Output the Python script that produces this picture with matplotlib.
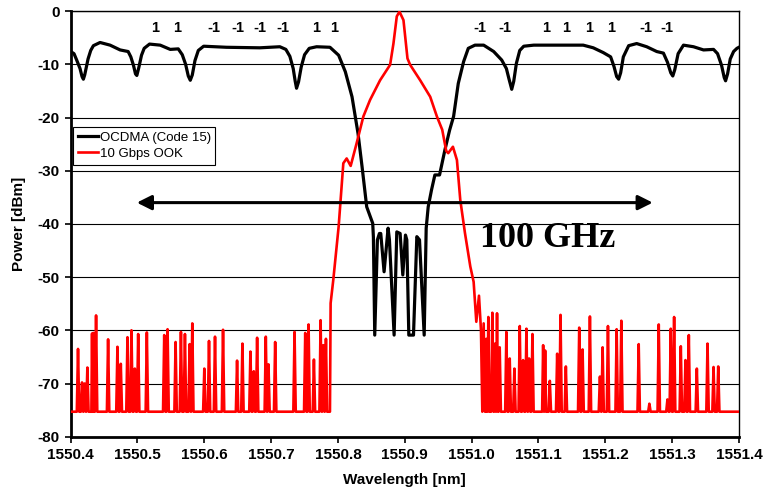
#!/usr/bin/env python3
"""
plot.py - OCDMA (Code 15) encoded spectrum vs. a 10 Gbps OOK spectrum.

Values are read off the reference figure by eye.
"""

import matplotlib
matplotlib.use("Agg")
import matplotlib.pyplot as plt

plt.rcParams['font.family'] = ['Liberation Sans', 'DejaVu Sans']
plt.rcParams['axes.unicode_minus'] = False

# --- OCDMA (Code 15) trace: wavelength [nm] and power [dBm]
ocdma_wl = [
    1550.400, 1550.405, 1550.409, 1550.414, 1550.417, 1550.419, 1550.421,
    1550.426, 1550.430, 1550.434, 1550.444, 1550.459, 1550.474, 1550.486,
    1550.490, 1550.494, 1550.497, 1550.499, 1550.502, 1550.506, 1550.510,
    1550.518, 1550.534, 1550.549, 1550.561, 1550.567, 1550.572, 1550.576,
    1550.579, 1550.582, 1550.586, 1550.591, 1550.599, 1550.633, 1550.683,
    1550.713, 1550.722, 1550.728, 1550.733, 1550.736, 1550.738, 1550.741,
    1550.745, 1550.750, 1550.757, 1550.768, 1550.788, 1550.801, 1550.811,
    1550.821, 1550.830, 1550.836, 1550.843, 1550.849, 1550.852, 1550.853,
    1550.855, 1550.859, 1550.862, 1550.864, 1550.869, 1550.875, 1550.877,
    1550.884, 1550.888, 1550.893, 1550.897, 1550.901, 1550.903, 1550.906,
    1550.913, 1550.918, 1550.922, 1550.929, 1550.932, 1550.935, 1550.940,
    1550.945, 1550.952, 1550.960, 1550.967, 1550.973, 1550.980, 1550.988,
    1550.995, 1551.005, 1551.018, 1551.033, 1551.045, 1551.052, 1551.056,
    1551.060, 1551.063, 1551.067, 1551.072, 1551.078, 1551.093, 1551.167,
    1551.182, 1551.197, 1551.208, 1551.213, 1551.217, 1551.220, 1551.223,
    1551.227, 1551.235, 1551.247, 1551.262, 1551.277, 1551.287, 1551.293,
    1551.298, 1551.301, 1551.304, 1551.309, 1551.317, 1551.332, 1551.347,
    1551.362, 1551.368, 1551.374, 1551.378, 1551.380, 1551.383, 1551.387,
    1551.392, 1551.397, 1551.400,
]
ocdma_db = [
    -7.6, -8.0, -9.2, -10.8, -12.3, -12.8, -12.0,
    -9.0, -7.4, -6.5, -5.9, -6.4, -7.3, -7.6,
    -8.6, -10.2, -11.8, -12.1, -10.6, -8.3, -7.0,
    -6.2, -6.4, -7.2, -7.1, -8.2, -10.0, -12.2,
    -13.0, -12.0, -9.3, -7.4, -6.6, -6.8, -6.9,
    -6.7, -7.2, -8.5, -10.8, -13.2, -14.5, -13.3,
    -10.5, -8.2, -7.0, -6.7, -6.8, -8.3, -11.4,
    -16.1, -23.0, -29.2, -36.8, -38.9, -39.9, -42.5,
    -60.9, -43.0, -41.8, -41.8, -49.0, -40.8, -43.0,
    -60.9, -41.5, -41.8, -49.6, -42.1, -43.0, -60.9,
    -60.9, -42.4, -43.0, -60.9, -40.8, -36.8, -33.6,
    -30.8, -30.8, -26.1, -22.4, -19.8, -13.6, -9.5,
    -7.0, -6.4, -6.4, -7.6, -9.2, -10.8, -12.8,
    -14.7, -13.2, -9.8, -7.4, -6.6, -6.4, -6.4,
    -6.9, -7.8, -8.6, -10.4, -12.3, -12.8, -11.6,
    -8.6, -6.5, -6.1, -6.7, -7.6, -7.9, -9.6,
    -11.6, -12.2, -11.0, -8.0, -6.4, -6.7, -7.3,
    -7.2, -8.0, -10.2, -12.5, -13.1, -11.8, -9.0,
    -7.6, -7.0, -6.8,
]

# --- 10 Gbps OOK: noise floor and noise spikes either side of the main lobe
ook_floor = -75.3
ook_spike_wl_left = [
    1550.411, 1550.417, 1550.421, 1550.425, 1550.432, 1550.434, 1550.438,
    1550.456, 1550.470, 1550.475, 1550.485, 1550.491, 1550.496, 1550.501,
    1550.514, 1550.540, 1550.545, 1550.557, 1550.565, 1550.571, 1550.578,
    1550.582, 1550.600, 1550.607, 1550.616, 1550.628, 1550.649, 1550.657,
    1550.669, 1550.674, 1550.679, 1550.692, 1550.696, 1550.706, 1550.735,
    1550.751, 1550.756, 1550.764, 1550.774, 1550.778, 1550.782,
]
ook_spike_db_left = [
    -63.5, -69.8, -70.0, -67.0, -60.6, -60.5, -57.2,
    -61.7, -63.1, -66.3, -61.3, -60.0, -67.2, -60.7,
    -60.4, -60.9, -59.8, -62.2, -60.3, -60.7, -62.6,
    -58.7, -67.2, -62.0, -61.2, -59.9, -65.7, -62.5,
    -64.0, -67.7, -61.4, -61.2, -66.4, -62.2, -60.3,
    -60.5, -58.9, -65.5, -58.1, -62.8, -61.6,
]
ook_spike_wl_right = [
    1551.022, 1551.025, 1551.031, 1551.035, 1551.038, 1551.042, 1551.052,
    1551.057, 1551.064, 1551.072, 1551.077, 1551.082, 1551.086, 1551.091,
    1551.107, 1551.110, 1551.117, 1551.128, 1551.133, 1551.141, 1551.161,
    1551.166, 1551.177, 1551.192, 1551.196, 1551.204, 1551.217, 1551.224,
    1551.250, 1551.266, 1551.280, 1551.293, 1551.298, 1551.303, 1551.313,
    1551.320, 1551.325, 1551.337, 1551.353, 1551.362, 1551.369,
]
ook_spike_db_right = [
    -61.6, -57.5, -56.7, -62.5, -56.8, -63.2, -60.3,
    -65.3, -67.2, -59.2, -65.6, -59.7, -65.3, -60.7,
    -62.8, -63.8, -69.5, -64.4, -57.1, -66.8, -59.5,
    -63.6, -57.4, -68.7, -63.2, -59.2, -59.8, -58.2,
    -62.6, -73.8, -58.9, -73.0, -59.7, -57.5, -63.0,
    -65.6, -60.9, -67.2, -62.5, -66.9, -66.8,
]

# main lobe of the OOK spectrum
ook_main_wl = [
    1550.788, 1550.789, 1550.793, 1550.801, 1550.804, 1550.808, 1550.813,
    1550.819, 1550.828, 1550.838, 1550.848, 1550.863, 1550.878, 1550.883,
    1550.888, 1550.892, 1550.898, 1550.904, 1550.908, 1550.923, 1550.938,
    1550.948, 1550.956, 1550.962, 1550.965, 1550.972, 1550.978, 1550.983,
    1550.990, 1550.998, 1551.003, 1551.007, 1551.011, 1551.014, 1551.016,
    1551.018, 1551.020,
]
ook_main_db = [
    -75.3, -54.9, -50.5, -40.5, -35.5, -28.6, -27.7,
    -29.1, -24.8, -19.8, -16.7, -13.0, -10.1, -6.1,
    -1.0, -0.1, -1.7, -8.9, -10.1, -13.0, -16.1,
    -19.8, -22.3, -26.3, -26.7, -25.5, -28.0, -35.5,
    -41.7, -48.0, -50.9, -58.4, -53.5, -60.0, -75.3,
    -58.7, -75.3,
]

# code chips printed above the OCDMA spectrum
chip_wl = [
    1550.526, 1550.559, 1550.615, 1550.650, 1550.683, 1550.717, 1550.768,
    1550.794, 1551.013, 1551.049, 1551.111, 1551.142, 1551.176, 1551.208,
    1551.260, 1551.292,
]
chip_labels = ['1', '1', '-1', '-1', '-1', '-1', '1', '1',
               '-1', '-1', '1', '1', '1', '1', '-1', '-1']

x_ticks = [1550.4, 1550.5, 1550.6, 1550.7, 1550.8, 1550.9,
           1551.0, 1551.1, 1551.2, 1551.3, 1551.4]
y_ticks = [-80, -70, -60, -50, -40, -30, -20, -10, 0]

SPIKE_HW = 0.0018  # half-width of a noise spike at its base, nm


def spike_trace(wl, db, start, stop, floor):
    """Build a line through the noise floor with narrow spikes."""
    xs, ys = [start], [floor]
    for i, (w, p) in enumerate(zip(wl, db)):
        prev_w = wl[i - 1] if i > 0 else start
        next_w = wl[i + 1] if i < len(wl) - 1 else stop
        h = min(SPIKE_HW, (w - prev_w) / 2, (next_w - w) / 2)
        xs += [w - h, w, w + h]
        ys += [floor, p, floor]
    xs.append(stop)
    ys.append(floor)
    return xs, ys


def main():
    fig = plt.figure(figsize=(7.64, 5.0), dpi=100)
    ax = fig.add_axes([0.0925, 0.1266, 0.8747, 0.8512])

    # OOK trace put together: left noise, main lobe, right noise
    lx, ly = spike_trace(ook_spike_wl_left, ook_spike_db_left,
                         1550.400, ook_main_wl[0], ook_floor)
    rx, ry = spike_trace(ook_spike_wl_right, ook_spike_db_right,
                         ook_main_wl[-1], 1551.400, ook_floor)
    ook_x = lx + ook_main_wl[1:-1] + rx
    ook_y = ly + ook_main_db[1:-1] + ry

    ax.plot(ocdma_wl, ocdma_db, color='black', lw=2.3,
            label='OCDMA (Code 15)', solid_joinstyle='round', zorder=3)
    ax.plot(ook_x, ook_y, color='#ff0000', lw=1.9,
            label='10 Gbps OOK', solid_joinstyle='round', zorder=4)

    for w, t in zip(chip_wl, chip_labels):
        ax.text(w, -3.2, t, ha='center', va='center',
                fontsize=10.5, fontweight='bold')

    # 100 GHz span arrow
    ax.annotate('', xy=(1551.271, -36.0), xytext=(1550.499, -36.0),
                arrowprops=dict(arrowstyle='<|-|>', color='black', lw=2.2,
                                mutation_scale=22, shrinkA=0, shrinkB=0),
                zorder=5)
    ax.text(1551.012, -44.3, '100 GHz', ha='left', va='baseline',
            fontsize=26, fontweight='bold',
            family=['Liberation Serif', 'DejaVu Serif'], zorder=5)

    ax.set_xlim(1550.4, 1551.4)
    ax.set_ylim(-80, 0)
    ax.set_xticks(x_ticks)
    ax.set_xticklabels([f'{v:.1f}' for v in x_ticks])
    ax.set_yticks(y_ticks)
    ax.set_yticklabels([str(v) for v in y_ticks])
    ax.tick_params(direction='out', length=4, width=1.2,
                   labelsize=11, pad=4)
    for lab in ax.get_xticklabels() + ax.get_yticklabels():
        lab.set_fontweight('bold')

    ax.yaxis.grid(True, color='black', lw=0.8)
    ax.set_axisbelow(True)
    for side in ('top', 'right'):
        ax.spines[side].set_linewidth(1.0)
    for side in ('left', 'bottom'):
        ax.spines[side].set_linewidth(2.0)

    ax.set_xlabel('Wavelength [nm]', fontsize=11, fontweight='bold',
                  labelpad=8)
    ax.set_ylabel('Power [dBm]', fontsize=11, fontweight='bold',
                  labelpad=8)

    leg = ax.legend(loc='upper left', bbox_to_anchor=(0.004, 0.728),
                    borderaxespad=0, fontsize=9.5, handlelength=1.5,
                    handletextpad=0.15, labelspacing=0.3, borderpad=0.35,
                    fancybox=False, framealpha=1, edgecolor='black')
    leg.get_frame().set_linewidth(0.8)

    fig.savefig('out.png', dpi=100)


if __name__ == '__main__':
    main()
